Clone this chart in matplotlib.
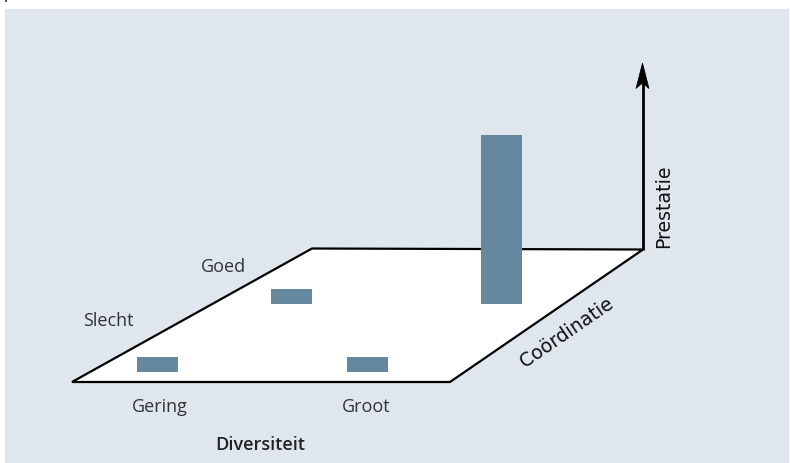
import matplotlib
matplotlib.use("Agg")
import matplotlib.pyplot as plt
from matplotlib.patches import Polygon, Rectangle

# ---- data ----
diversity = ["Gering", "Groot"]          # x-direction categories
coordination = ["Slecht", "Goed"]        # depth-direction categories
performance = [[1.0, 1.0],               # Slecht: Gering, Groot
               [1.0, 11.5]]              # Goed:   Gering, Groot
x_title = "Diversiteit"
depth_title = "Coördinatie"
z_title = "Prestatie"

# ---- layout (pixel coordinates, y downwards) ----
W, H = 790, 464
BG = "#dfe6ee"
BAR = "#66889e"
font = ["Open Sans", "DejaVu Sans"]
font2 = ["DejaVu Sans"]

fig = plt.figure(figsize=(W / 100, H / 100), dpi=100)
ax = fig.add_axes([0, 0, 1, 1])
ax.set_xlim(0, W)
ax.set_ylim(H, 0)
ax.axis("off")

# background panel
ax.add_patch(Rectangle((5, 10), 784, 454, facecolor=BG, edgecolor="none", zorder=0))
ax.add_patch(Rectangle((5, 0), 2, 2.5, facecolor="#555555", edgecolor="none", zorder=0))

# floor parallelogram
floor = [(72, 383), (450, 383), (643, 250.5), (312, 249.5)]
ax.add_patch(Polygon(floor, closed=True, facecolor="white", edgecolor="black",
                     lw=1.6, joinstyle="miter", zorder=1))

# bar projection
x0, bx, cx = 136.5, 210.0, 134.0   # left edge of bars
y0, cy = 372.7, 68.0               # base of bars
bar_w = 41
unit = 14.7                        # px per performance unit
for j, row in enumerate(performance):
    for i, v in enumerate(row):
        left = x0 + i * bx + j * cx
        base = y0 - j * cy
        ax.bar(left, -v * unit, bottom=base, width=bar_w, align="edge",
               color=BAR, edgecolor="none", zorder=3)

# vertical performance axis with arrow
ax.plot([642.7, 642.7], [251, 80], color="black", lw=2.0, zorder=2,
        solid_capstyle="butt")
ax.add_patch(Polygon([(642.5, 64), (636, 89.5), (642.5, 84), (649, 89.5)],
                     closed=True, facecolor="black", edgecolor="black",
                     lw=0.5, zorder=2))

# labels
tc = "#333333"
fs = 13
ax.text(160, 407, diversity[0], ha="center", va="center", fontsize=fs,
        color=tc, family=font)
ax.text(366, 407, diversity[1], ha="center", va="center", fontsize=fs,
        color=tc, family=font)
ax.text(260, 445, x_title, ha="center", va="center", fontsize=fs,
        color="#222222", family=font, fontweight="semibold")
ax.text(108, 321, coordination[0], ha="center", va="center", fontsize=fs,
        color=tc, family=font)
ax.text(223, 267, coordination[1], ha="center", va="center", fontsize=fs,
        color=tc, family=font)
ax.text(567, 333, depth_title, ha="center", va="center", fontsize=13.6,
        color="#111111", family=font2, rotation=34.5, rotation_mode="anchor")
ax.text(664, 206, z_title, ha="center", va="center", fontsize=13.6,
        color="#111111", family=font2, rotation=90, rotation_mode="anchor")

fig.savefig("out.png", dpi=100, facecolor="white")
